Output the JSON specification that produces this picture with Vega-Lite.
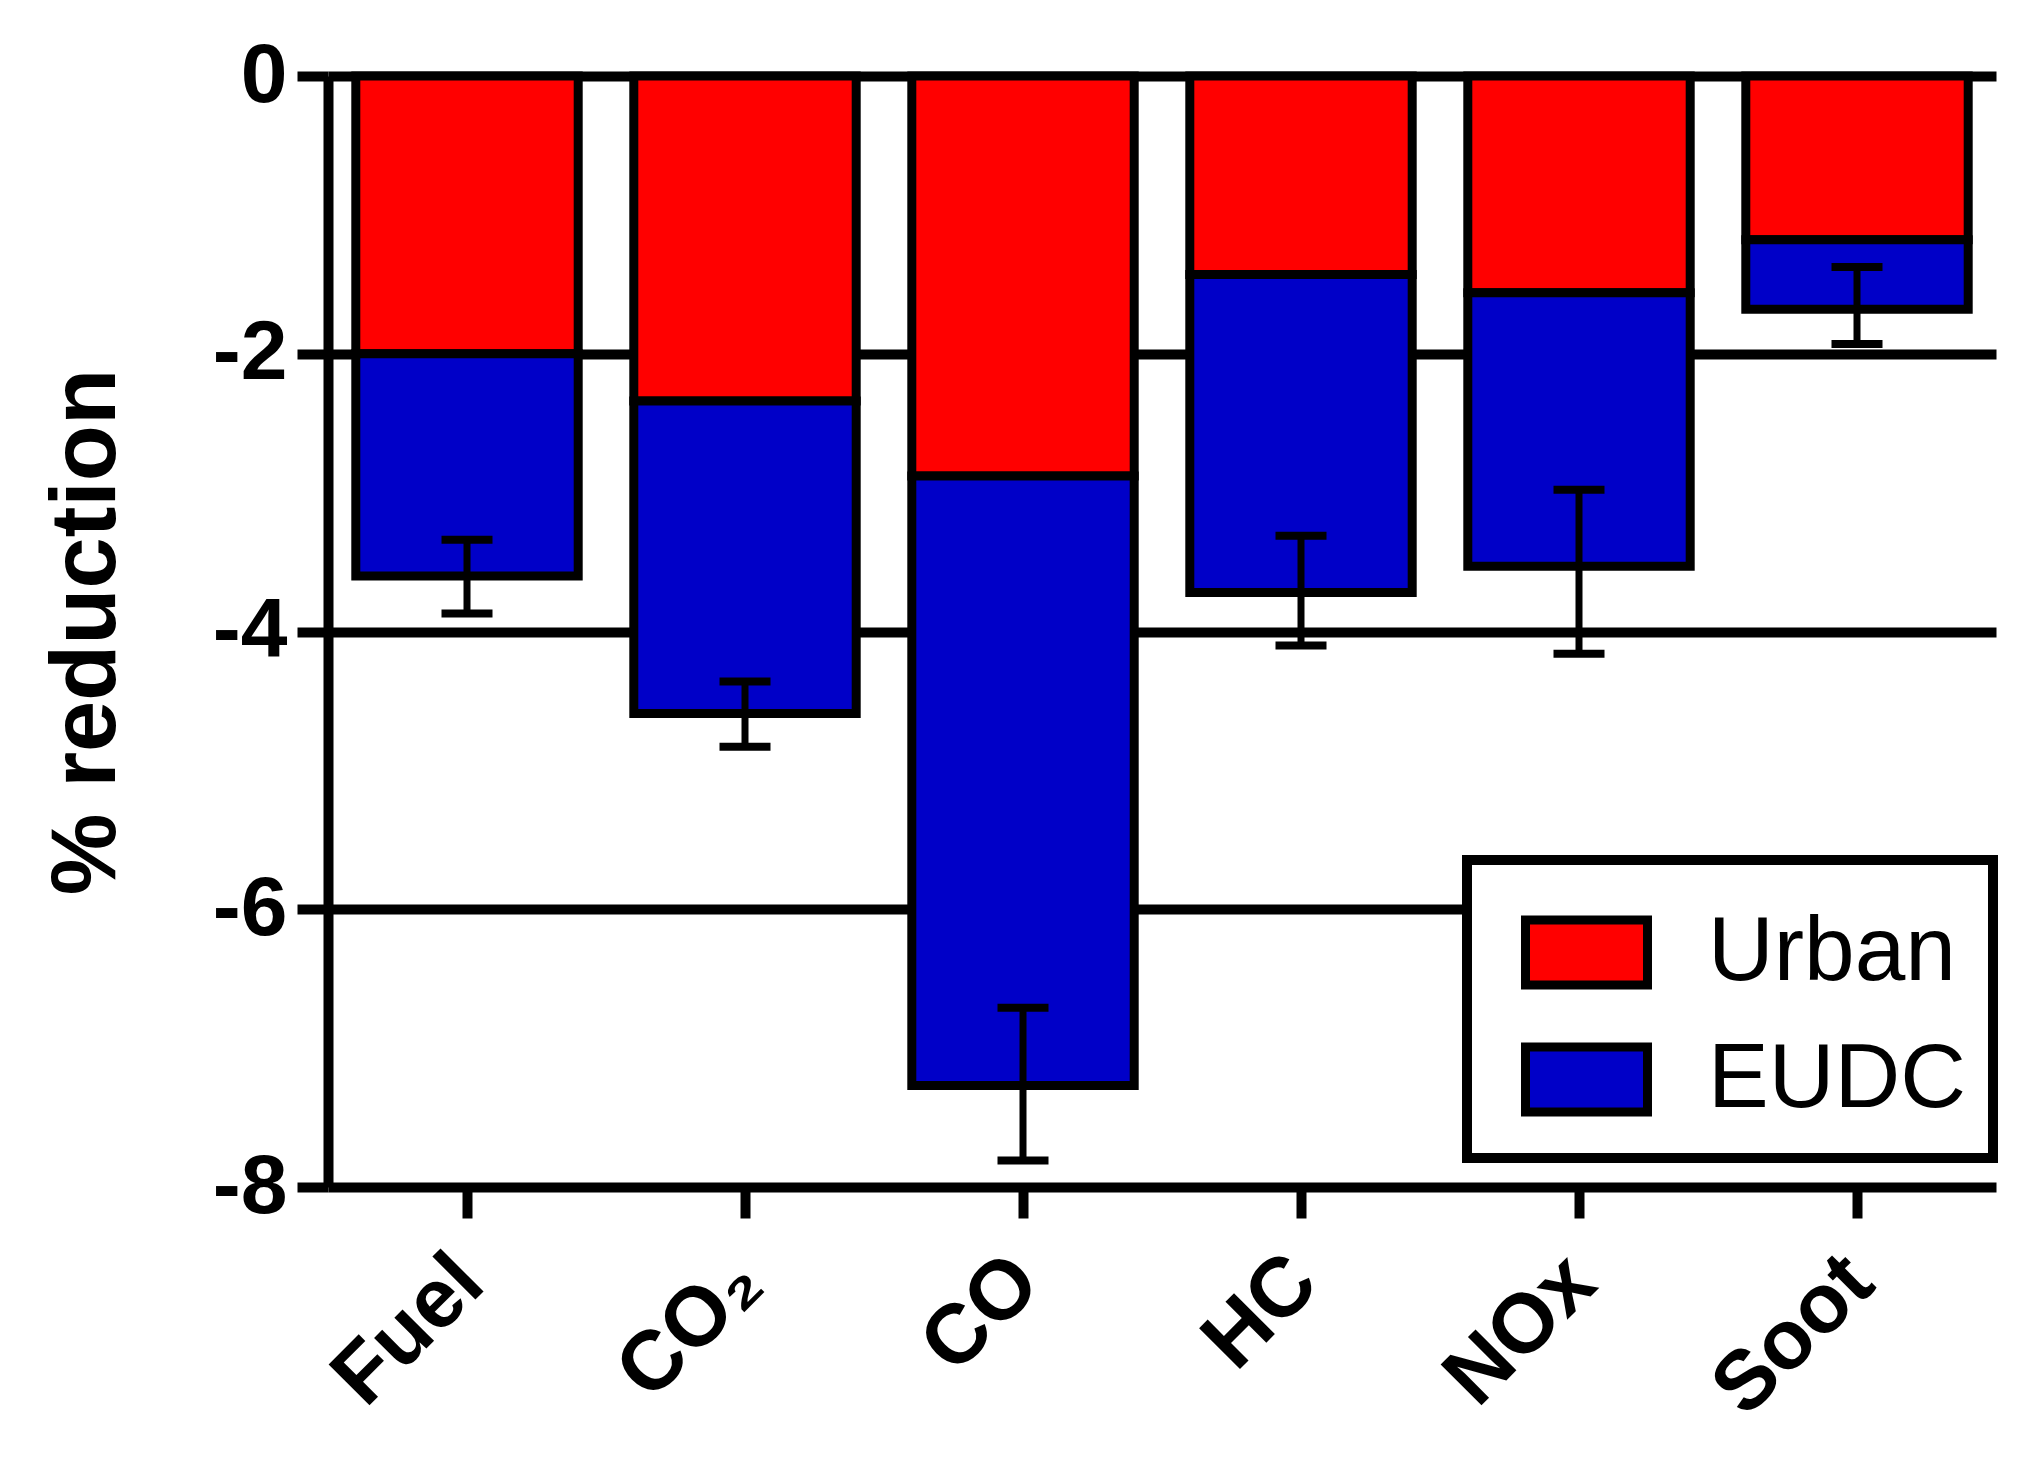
{
  "$schema": "https://vega.github.io/schema/vega-lite/v6.json",
  "width": 1668,
  "height": 1111,
  "autosize": "none",
  "padding": {"left": 328, "top": 76, "right": 48, "bottom": 275},
  "background": "white",
  "config": {
    "view": {"stroke": null},
    "font": "Liberation Sans",
    "legend": {"strokeWidth": 10},
    "axisY": {
      "labelFont": "Liberation Sans",
      "labelFontSize": 84,
      "labelFontWeight": "bold",
      "labelColor": "black",
      "labelPadding": 10,
      "grid": true,
      "gridColor": "black",
      "gridWidth": 10,
      "gridOpacity": 1,
      "domainColor": "black",
      "domainWidth": 10,
      "tickColor": "black",
      "tickWidth": 10,
      "tickSize": 31,
      "titleFont": "Liberation Sans",
      "titleFontSize": 92,
      "titleFontWeight": "bold",
      "titleColor": "black",
      "titlePadding": 79
    },
    "axisX": {
      "domain": false,
      "grid": false,
      "tickColor": "black",
      "tickWidth": 10,
      "tickSize": 31,
      "labelAngle": -45,
      "labelLimit": 0,
      "labelFont": "Liberation Sans",
      "labelFontSize": 84,
      "labelFontWeight": "bold",
      "labelColor": "black",
      "labelPadding": 22,
      "labelOffset": -26
    }
  },
  "datasets": {
    "bars": [
      {"pollutant": "Fuel", "cycle": "Urban", "ord": 1, "value": -2.0},
      {"pollutant": "Fuel", "cycle": "EUDC", "ord": 2, "value": -1.6},
      {"pollutant": "CO₂", "cycle": "Urban", "ord": 1, "value": -2.34},
      {"pollutant": "CO₂", "cycle": "EUDC", "ord": 2, "value": -2.25},
      {"pollutant": "CO", "cycle": "Urban", "ord": 1, "value": -2.88},
      {"pollutant": "CO", "cycle": "EUDC", "ord": 2, "value": -4.39},
      {"pollutant": "HC", "cycle": "Urban", "ord": 1, "value": -1.43},
      {"pollutant": "HC", "cycle": "EUDC", "ord": 2, "value": -2.29},
      {"pollutant": "NOx", "cycle": "Urban", "ord": 1, "value": -1.56},
      {"pollutant": "NOx", "cycle": "EUDC", "ord": 2, "value": -1.97},
      {"pollutant": "Soot", "cycle": "Urban", "ord": 1, "value": -1.18},
      {"pollutant": "Soot", "cycle": "EUDC", "ord": 2, "value": -0.5}
    ],
    "errors": [
      {"pollutant": "Fuel", "lo": -3.87, "hi": -3.34},
      {"pollutant": "CO₂", "lo": -4.83, "hi": -4.36},
      {"pollutant": "CO", "lo": -7.81, "hi": -6.71},
      {"pollutant": "HC", "lo": -4.1, "hi": -3.31},
      {"pollutant": "NOx", "lo": -4.16, "hi": -2.98},
      {"pollutant": "Soot", "lo": -1.93, "hi": -1.375}
    ]
  },
  "encoding": {
    "x": {
      "field": "pollutant",
      "type": "nominal",
      "sort": ["Fuel", "CO₂", "CO", "HC", "NOx", "Soot"],
      "scale": {"paddingInner": 0.2, "paddingOuter": 0.1},
      "title": null
    }
  },
  "layer": [
    {
      "data": {"name": "bars"},
      "mark": {"type": "bar", "stroke": "black", "strokeWidth": 9, "opacity": 1},
      "encoding": {
        "y": {
          "field": "value",
          "type": "quantitative",
          "stack": "zero",
          "scale": {"domain": [-8, 0], "nice": false},
          "axis": {"values": [0, -2, -4, -6, -8], "labelExpr": "toString(datum.value)"},
          "title": "% reduction"
        },
        "color": {
          "field": "cycle",
          "type": "nominal",
          "scale": {"domain": ["Urban", "EUDC"], "range": ["#FF0000", "#0000C8"]},
          "legend": {
            "orient": "none",
            "legendX": 1139,
            "legendY": 784,
            "title": null,
            "symbolType": "M-1,-0.533H1V0.533H-1Z",
            "symbolSize": 14884,
            "symbolStrokeColor": "black",
            "symbolStrokeWidth": 9,
            "symbolOpacity": 1,
            "symbolOffset": 27,
            "labelFont": "Liberation Sans",
            "labelFontSize": 91,
            "labelFontWeight": "normal",
            "labelColor": "black",
            "labelLimit": 0,
            "labelOffset": 56,
            "rowPadding": 10,
            "padding": 27,
            "strokeColor": "black",
            "fillColor": "white"
          }
        },
        "order": {"field": "ord", "type": "quantitative"}
      }
    },
    {
      "data": {"name": "errors"},
      "mark": {"type": "rule", "color": "black", "strokeWidth": 7},
      "encoding": {
        "y": {"field": "lo", "type": "quantitative", "title": "% reduction"},
        "y2": {"field": "hi"}
      }
    },
    {
      "data": {"name": "errors"},
      "mark": {"type": "tick", "color": "black", "thickness": 8, "size": 51, "opacity": 1},
      "encoding": {
        "y": {"field": "lo", "type": "quantitative", "title": "% reduction"}
      }
    },
    {
      "data": {"name": "errors"},
      "mark": {"type": "tick", "color": "black", "thickness": 8, "size": 51, "opacity": 1},
      "encoding": {
        "y": {"field": "hi", "type": "quantitative", "title": "% reduction"}
      }
    }
  ]
}
